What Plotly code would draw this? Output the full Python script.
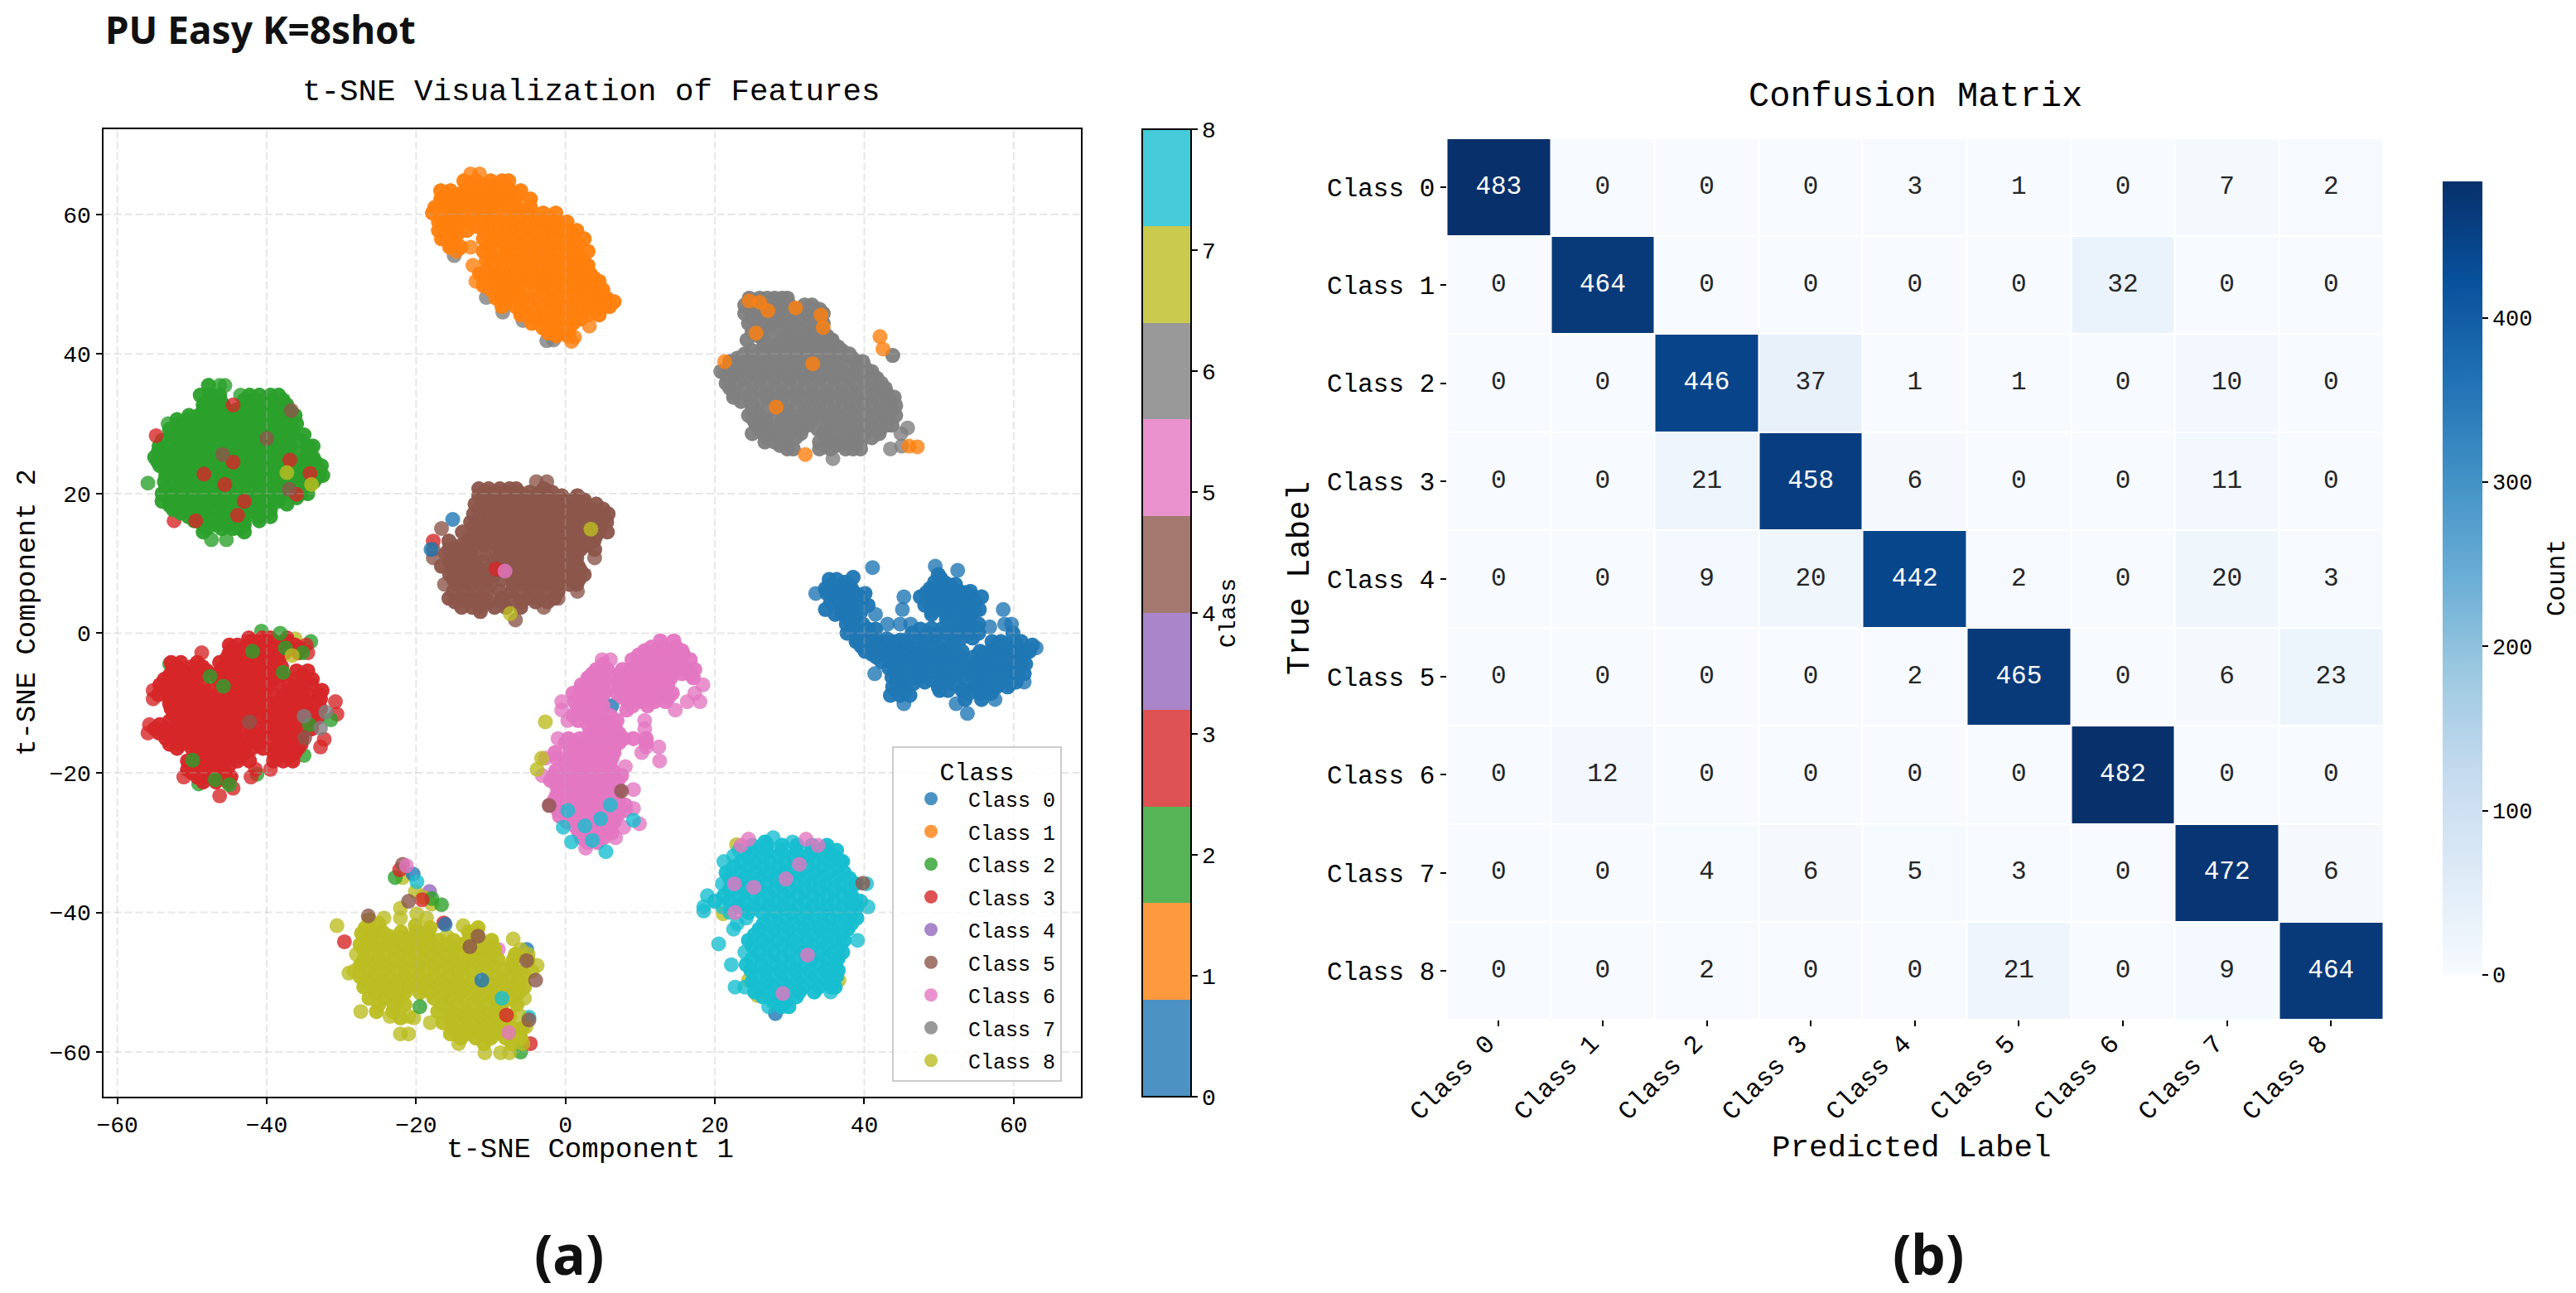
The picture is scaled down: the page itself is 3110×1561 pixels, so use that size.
import plotly.graph_objects as go

W, H = 3110, 1561
MONO = "Liberation Mono"
BOLD = "Noto Sans"

class_names = ["Class 0", "Class 1", "Class 2", "Class 3", "Class 4", "Class 5", "Class 6", "Class 7", "Class 8"]
tab10 = ["#1f77b4", "#ff7f0e", "#2ca02c", "#d62728", "#9467bd", "#8c564b", "#e377c2", "#7f7f7f", "#bcbd22", "#17becf"]
band_colors = ["#4c92c3", "#ff993e", "#56b356", "#de5253", "#a985ca", "#a3786f", "#e992ce", "#999999", "#c9ca4e", "#45cbd9"]
x_ticks = [-60, -40, -20, 0, 20, 40, 60]
y_ticks = [-60, -40, -20, 0, 20, 40, 60]
cbar_ticks = [0, 1, 2, 3, 4, 5, 6, 7, 8]
count_ticks = [0, 100, 200, 300, 400]

confusion = [
    [483, 0, 0, 0, 3, 1, 0, 7, 2],
    [0, 464, 0, 0, 0, 0, 32, 0, 0],
    [0, 0, 446, 37, 1, 1, 0, 10, 0],
    [0, 0, 21, 458, 6, 0, 0, 11, 0],
    [0, 0, 9, 20, 442, 2, 0, 20, 3],
    [0, 0, 0, 0, 2, 465, 0, 6, 23],
    [0, 12, 0, 0, 0, 0, 482, 0, 0],
    [0, 0, 4, 6, 5, 3, 0, 472, 6],
    [0, 0, 2, 0, 0, 21, 0, 9, 464],
]

# t-SNE points, as (y, [x, x, ...]) rows
rows_0 = [
    (9.4, [41.1]), (9.6, [49.5]), (9.0, [52.5]), (8.4, [49.9]), (8.0, [38.5]), (7.7, [35.3, 36.3]),
    (7.3, [37.4, 49.4, 50.7]), (7.0, [52.2]), (6.4, [34.8, 35.9, 37.0, 38.3, 48.8, 49.9]),
    (6.0, [51.2, 52.7, 54.2]), (5.7, [33.5, 40.1]), (5.2, [35.9, 37.0, 38.3, 39.4, 45.3, 47.5, 48.8, 50.1, 51.4, 52.9, 54.4, 55.7]),
    (4.0, [36.8, 40.5, 48.1, 49.4, 50.9, 52.4, 53.9]), (3.4, [34.8, 38.5, 45.1, 55.4, 58.6]),
    (2.7, [36.1, 41.5, 38.7, 49.0, 51.0, 52.5, 54.0]), (1.3, [37.6, 52.5, 53.8, 58.8, 39.8, 43.1, 44.8, 46.2, 55.3, 59.7]),
    (0.9, [56.8]), (0.0, [37.7, 39.0, 46.4, 48.6, 50.1, 51.4, 52.7, 54.0, 55.3, 59.9]),
    (-1.2, [38.9, 40.1, 41.3, 42.5, 43.8, 50.5, 57.1, 58.3, 61.0]), (-1.7, [62.5]), (-2.1, [63.0, 45.3, 46.6, 44.0, 59.5, 58.1]),
    (-2.6, [40.1, 41.4, 42.7, 53.1, 55.5, 56.8, 61.0, 62.1]), (-3.4, [41.6, 42.9, 44.2, 45.5, 46.8, 48.1, 49.6, 50.9, 54.7, 56.0, 57.3, 58.8, 60.3]),
    (-4.4, [47.4, 48.8, 50.3, 51.6, 61.6]), (-5.0, [43.3, 44.6, 45.9, 54.0, 55.5, 57.0, 58.4, 59.9]),
    (-5.8, [41.4, 47.2, 48.5, 49.9, 51.2, 61.4]), (-6.3, [43.7, 45.0, 54.4, 55.9, 57.3, 58.8]),
    (-7.0, [48.1, 51.2, 60.3, 61.4]), (-7.7, [43.8, 45.1, 49.9, 54.7, 57.7, 59.2]), (-8.2, [53.1, 56.2, 51.2, 50.1]),
    (-8.9, [43.5, 44.8, 46.1]), (-9.5, [53.5, 55.7, 57.5]), (-10.1, [45.3, 52.3]), (-11.5, [53.8]),
    (6.8, [35.5, 36.7, 37.8]), (5.7, [35.0, 36.3, 37.6, 38.8]), (4.5, [35.5, 36.8, 38.2, 39.5]), (3.0, [37.5, 39.5]), (2.1, [37.8]),
    (0.7, [38.6]), (-0.8, [39.0, 41.0, 43.0]), (-1.9, [39.6, 42.0, 43.0, 45.8]), (-3.0, [41.0, 43.5, 44.8, 46.2, 47.5, 49.0, 50.5]),
    (-4.1, [42.3, 43.6, 45.0, 46.3, 47.8, 49.5, 51.0]), (-5.4, [44.0, 46.0, 47.8, 49.2, 50.6]), (-6.6, [44.4, 49.0, 50.5]), (-8.2, [44.2, 45.5]),
    (7.9, [50.2]), (6.9, [50.0, 51.4]), (5.8, [48.3, 49.5, 50.7, 52.0, 53.5]), (4.5, [48.6, 50.0, 51.5, 53.0, 54.8]),
    (3.2, [49.0, 50.5, 52.0, 53.5, 54.8]), (2.0, [51.0, 52.5, 54.0]), (0.7, [49.0, 50.5, 52.0, 53.5, 55.0]), (-0.7, [49.0, 52.0, 53.0, 54.5]),
    (-1.6, [57.8, 59.0, 60.3]), (-2.9, [56.0, 57.5, 59.0, 60.5, 61.5]), (-4.2, [55.0, 56.5, 58.0, 59.5, 61.0]),
    (-5.6, [54.5, 56.0, 57.5, 59.0, 60.5]), (-7.2, [55.0, 56.5, 58.0, 59.5]), (-8.6, [54.0, 55.5, 57.0]),
    (-6.0, [52.5, 53.2]), (-4.5, [52.8, 53.5]), (-3.4, [52.0, 53.0]), (-2.0, [47.5, 49.0, 50.0, 51.5, 52.0]), (-1.0, [47.0, 48.2, 44.8, 45.5]),
    (0.6, [47.5, 40.5, 41.5]), (-6.5, [46.2, 47.3]), (-7.2, [46.6, 52.0]), (-8.0, [53.3]), (4.0, [38.0]), (2.8, [37.0, 38.0]), (1.7, [38.5]),
]
rows_1 = [
    (65.8, [-12.7, -11.5]), (64.8, [-13.6, -12.0, -10.0, -8.5, -7.6]),
    (63.4, [-16.7, -15.4, -13.5, -12.0, -10.5, -9.0, -7.5, -6.0]),
    (62.2, [-16.7, -15.0, -13.5, -12.0, -10.5, -9.0, -7.5, -6.6, -4.7]),
    (61.0, [-17.5, -16.0, -14.0, -12.0, -10.0, -8.0, -6.7, -4.7]),
    (60.2, [-17.8, -16.0, -14.5, -12.5, -10.5, -8.5, -5.0, -3.0, -1.3]),
    (58.9, [-17.0, -15.5, -14.0, -13.0, -11.0, -9.0, -7.0, -5.0, -3.0, -1.5, 0.2]),
    (57.7, [-17.0, -15.5, -13.2, -11.0, -9.0, -7.0, -5.0, -3.0, -1.0, 0.5, 1.5]),
    (56.5, [-16.6, -15.0, -11.0, -9.0, -7.0, -5.0, -3.0, -1.0, 1.0, 2.5]),
    (55.3, [-15.5, -14.0, -12.7, -10.5, -8.0, -6.0, -4.0, -2.0, 0.0, 1.5]), (54.7, [3.0]),
    (54.1, [-10.0, -8.0, -6.0, -4.0, -2.0, 0.0, 1.5]),
    (52.7, [-12.4, -9.5, -7.5, -5.5, -3.5, -1.5, 0.5, 2.0, 3.0]),
    (51.5, [-11.5, -9.5, -7.5, -5.5, -3.0, -1.0, 1.0, 2.5, 3.3]),
    (50.4, [-12.0, -10.0, -8.0, -6.0, -4.5, -2.5, -0.5, 1.5, 3.0, 4.5]),
    (49.2, [-10.0, -8.5, -7.0, -4.0, -2.0, 0.0, 2.0, 3.5, 5.0]),
    (48.0, [-9.3, -8.0, -7.0, -5.5, -4.0, -2.0, 0.0, 2.0, 4.0, 5.5]), (47.5, [6.5]),
    (46.8, [-8.5, -6.7, -3.0, -1.0, 1.0, 3.0, 5.0, 5.9]),
    (45.6, [-6.0, -5.0, -3.0, -1.0, 1.0, 3.0, 4.5]),
    (44.4, [-4.5, -2.5, -0.5, 1.0]), (44.0, [3.2]), (43.0, [-2.3, -0.5]), (42.4, [1.2]), (41.8, [0.8]),
    (64.2, [-12.8, -11.0, -9.2]), (62.8, [-16.0, -14.5, -12.8, -11.2, -9.7, -8.2, -6.8]), (61.6, [-16.5, -14.8, -12.8, -11.0, -9.0, -7.3]),
    (60.6, [-16.8, -15.0, -13.2, -11.3, -9.3, -7.4, -5.8]), (59.5, [-16.5, -14.8, -12.2, -10.0, -8.0, -6.0, -4.0, -2.2]),
    (58.3, [-16.2, -14.6, -12.0, -10.0, -8.0, -6.0, -4.0, -2.0, -0.5]), (57.1, [-16.0, -14.5, -10.0, -8.0, -6.0, -4.0, -2.0, 0.0, 1.0]),
    (55.9, [-15.5, -10.0, -8.0, -6.0, -4.0, -2.0, 0.0, 1.7]), (54.7, [-14.6, -11.0, -9.0, -7.0, -5.0, -3.0, -1.0, 1.0]),
    (53.4, [-10.6, -8.5, -6.5, -4.5, -2.5, -0.5, 1.3, 2.3]), (52.1, [-10.5, -8.5, -6.5, -4.5, -2.2, -0.2, 1.7, 2.8]),
    (50.9, [-11.0, -9.0, -7.0, -5.0, -3.5, -1.5, 0.5, 2.2, 3.8]), (49.8, [-11.0, -9.0, -7.5, -5.5, -3.0, -1.0, 1.0, 2.7, 4.0]),
    (48.6, [-9.2, -7.7, -6.3, -3.0, -1.0, 1.0, 3.0, 4.8]), (47.4, [-8.0, -5.0, -2.0, 0.0, 2.0, 4.0, 5.5]),
    (46.2, [-6.0, -4.0, -2.0, 0.0, 2.0, 4.0]), (45.0, [-4.0, -2.0, 0.0, 2.0]), (43.7, [-3.0, -1.0, 0.5]), (42.6, [-1.2, 0.3]),
]
rows_2 = [
    (35.5, [-47.8, -46.3, -45.6]), (34.1, [-48.9, -47.6, -46.3, -43.5, -42.3, -41.0, -39.5, -38.4]),
    (32.7, [-48.5, -47.2, -45.8, -42.8, -41.3, -39.9, -38.4, -37.3]),
    (31.2, [-50.4, -49.1, -47.6, -46.1, -44.7, -43.2, -41.7, -40.2, -38.7, -37.3, -36.2]),
    (30.0, [-53.2, -51.7, -50.2, -48.7, -47.2, -45.8, -44.3, -42.8, -41.3, -39.9, -38.4, -36.9, -36.0]),
    (28.4, [-52.8, -51.3, -49.8, -48.4, -46.9, -45.4, -43.9, -42.4, -41.0, -39.5, -38.0, -36.5, -35.0]),
    (26.8, [-54.4, -53.0, -51.5, -50.0, -48.5, -47.1, -45.6, -44.1, -42.6, -41.1, -39.7, -38.2, -36.9, -34.5, -33.8]),
    (25.2, [-55.0, -53.5, -52.0, -50.5, -49.0, -47.5, -46.0, -44.5, -43.0, -41.5, -40.0, -38.5, -37.0, -34.6, -33.8]),
    (24.0, [-54.3, -52.5, -51.0, -49.5, -48.0, -46.5, -45.0, -43.5, -42.0, -40.5, -39.0, -37.5, -35.0, -33.5, -32.7]),
    (22.6, [-53.5, -52.0, -50.0, -48.5, -47.0, -45.5, -44.0, -42.5, -41.0, -39.5, -38.0, -36.0, -34.5, -33.0, -32.5]),
    (21.7, [-53.7, -51.5, -50.0, -48.0, -46.0, -44.5, -43.0, -41.5, -40.0, -38.5, -37.0, -35.0, -33.7]),
    (20.0, [-54.0, -52.5, -50.5, -49.0, -47.0, -45.0, -43.0, -41.0, -39.0, -37.5, -35.4, -34.5]),
    (18.9, [-54.0, -52.5, -51.0, -49.0, -47.5, -46.0, -44.0, -42.5, -41.0, -39.5, -38.5]), (18.5, [-37.3]),
    (17.7, [-52.5, -51.0, -49.0, -47.0, -45.5, -44.0, -42.0, -40.5, -39.5]),
    (16.7, [-50.5, -49.0, -46.0, -44.5, -43.0, -41.0, -39.5]),
    (15.5, [-48.5, -46.7, -45.3, -44.0, -43.0]), (14.5, [-48.5, -43.0]), (13.4, [-47.4, -45.4]),
    (33.4, [-47.8, -46.2, -43.0, -41.7, -40.3, -39.0, -37.8]), (32.0, [-48.5, -47.0, -45.5, -44.0, -42.5, -41.0, -39.5, -38.0, -37.0]),
    (30.6, [-52.0, -50.5, -49.0, -47.5, -46.0, -44.5, -43.0, -41.5, -40.0, -38.5, -37.0]),
    (29.2, [-53.0, -51.5, -50.0, -48.5, -47.0, -45.5, -44.0, -42.5, -41.0, -39.5, -38.0, -36.5]),
    (27.6, [-54.0, -52.0, -50.5, -49.0, -47.5, -46.0, -44.5, -43.0, -41.5, -40.0, -38.5, -37.0, -35.5]),
    (26.0, [-54.5, -52.8, -51.0, -49.5, -48.0, -46.5, -45.0, -43.5, -42.0, -40.5, -39.0, -37.5, -36.0, -34.2]),
    (24.6, [-54.6, -53.0, -51.5, -50.0, -48.5, -47.0, -45.5, -44.0, -42.5, -41.0, -39.5, -38.0, -36.5, -35.0, -33.5]),
    (23.3, [-53.5, -52.0, -50.5, -49.0, -47.5, -46.0, -44.5, -43.0, -41.5, -40.0, -38.5, -37.0, -35.5, -34.0, -33.0]),
    (22.1, [-52.8, -51.0, -49.0, -47.5, -46.0, -44.5, -43.0, -41.5, -40.0, -38.5, -36.5, -35.0, -33.5]),
    (20.8, [-53.5, -51.8, -50.0, -48.2, -46.5, -45.0, -43.5, -42.0, -40.5, -39.0, -37.5, -35.8, -34.5]),
    (19.4, [-53.0, -51.5, -50.0, -48.0, -46.5, -44.5, -43.0, -41.5, -40.0, -38.5, -36.0]),
    (18.3, [-53.0, -51.0, -50.0, -48.0, -46.0, -44.5, -43.0, -41.5, -40.0]), (17.2, [-51.5, -50.0, -48.0, -46.0, -45.0, -43.0, -41.5, -40.0]),
    (16.1, [-49.7, -47.5, -46.0, -44.5, -43.0, -41.0]), (15.0, [-48.0, -46.0, -44.5, -43.5]),
]
rows_3 = [
    (-0.7, [-42.4, -40.6, -39.5, -37.3]), (-1.7, [-45.0, -43.9, -42.4, -41.0, -39.5, -38.0, -36.2, -34.7]),
    (-2.8, [-48.7, -45.0, -43.5, -42.0, -40.6, -39.1, -37.6, -35.8, -34.5]),
    (-4.2, [-52.8, -51.5, -49.3, -46.3, -44.8, -43.4, -41.9, -40.4, -38.9]),
    (-5.4, [-52.6, -51.1, -49.5, -48.0, -46.1, -44.7, -43.2, -41.7, -40.2, -38.7, -36.0, -34.5]),
    (-6.6, [-53.7, -52.4, -50.9, -49.5, -46.5, -45.0, -43.5, -42.0, -40.6, -39.1, -36.2, -34.9, -33.9]),
    (-8.2, [-55.2, -53.5, -52.0, -50.6, -49.1, -47.6, -44.5, -43.2, -41.7, -40.2, -36.9, -35.4, -32.6]),
    (-9.4, [-55.2, -53.0, -51.5, -50.0, -48.5, -47.1, -45.6, -44.1, -42.6, -41.1, -38.0, -36.5, -35.0, -32.8]), (-9.8, [-30.8]),
    (-10.8, [-52.8, -51.3, -49.8, -48.4, -46.9, -45.4, -43.9, -42.4, -41.1, -39.5, -38.0, -36.5, -34.3, -32.8]),
    (-11.6, [-30.6]), (-12.1, [-52.0, -50.6, -49.1, -47.6, -46.1, -44.7, -43.2, -40.6, -39.1, -37.6, -36.2, -33.2]),
    (-13.1, [-55.7, -54.3, -51.7, -50.2, -48.7, -47.2, -45.8, -44.3, -39.1, -37.3]),
    (-14.3, [-55.9, -54.4, -53.0, -51.5, -50.0, -48.5, -47.1, -45.6, -44.1, -42.1, -40.6, -39.1, -37.6, -36.2]), (-15.2, [-32.3]),
    (-15.9, [-53.0, -51.5, -50.0, -48.5, -47.1, -45.6, -44.1, -42.8, -41.0, -38.4, -36.9, -35.4]), (-16.3, [-32.8]),
    (-17.1, [-48.7, -47.2, -45.8, -44.3, -43.0, -39.1, -37.6, -36.2]),
    (-18.3, [-50.6, -49.1, -47.6, -45.6, -43.9, -42.3, -39.1, -37.8, -36.5]),
    (-19.5, [-50.6, -49.3, -48.0, -46.5, -41.5, -39.5]), (-20.6, [-51.1, -49.3, -48.0, -46.3, -44.8, -42.1]),
    (-22.2, [-44.5]), (-23.3, [-46.3]),
    (-1.2, [-42.0, -40.5, -39.0, -37.5]), (-2.2, [-44.5, -43.0, -41.5, -40.0, -38.5, -36.8, -35.5]),
    (-3.5, [-45.3, -44.0, -42.6, -41.2, -39.8, -38.3]), (-4.8, [-52.0, -50.0, -48.6, -45.6, -44.0, -42.5, -41.0, -39.5, -38.0]),
    (-6.0, [-53.0, -51.7, -50.2, -48.8, -47.0, -45.4, -44.0, -42.5, -41.0, -39.5, -37.9, -35.2]),
    (-7.4, [-54.3, -53.0, -51.3, -50.0, -48.5, -46.0, -44.5, -43.0, -41.5, -40.0, -38.5, -37.0, -35.5, -34.0]),
    (-8.8, [-54.5, -52.8, -51.3, -49.7, -48.3, -46.5, -45.0, -43.5, -42.0, -40.5, -39.0, -37.5, -36.0, -34.5, -33.0]),
    (-10.1, [-53.0, -51.5, -50.0, -48.5, -47.0, -45.5, -44.0, -42.5, -41.0, -39.5, -38.0, -36.5, -35.0, -33.5]),
    (-11.5, [-52.5, -51.0, -49.5, -48.0, -46.5, -45.0, -43.5, -42.0, -40.0, -38.5, -37.0, -35.5, -34.0]),
    (-12.6, [-53.0, -51.0, -49.5, -48.0, -46.5, -45.0, -43.5, -42.0, -40.0, -38.5, -37.0, -35.5, -33.8]),
    (-13.7, [-55.0, -53.5, -52.0, -50.5, -49.0, -47.5, -46.0, -44.5, -43.0, -41.5, -40.0, -38.5, -37.0, -35.5, -34.0]),
    (-15.1, [-53.5, -52.0, -50.5, -49.0, -47.5, -46.0, -44.5, -43.0, -41.5, -39.8, -38.3, -36.8, -35.3]),
    (-16.5, [-52.0, -50.0, -48.0, -46.5, -45.0, -43.5, -42.0, -40.5, -38.8, -37.2, -35.8]),
    (-17.7, [-49.5, -48.0, -46.5, -45.0, -43.5, -38.5, -37.0]), (-18.9, [-50.0, -48.5, -47.0, -45.0]),
    (-20.0, [-50.0, -48.7, -47.0, -45.5]), (-21.3, [-48.5, -46.8, -45.2]),
]
rows_4 = [(-37.0, [-18.2])]
rows_5 = [
    (21.7, [-3.9, -2.5]), (20.7, [-11.6, -10.3, -8.8, -7.5, -6.6, -2.9]),
    (19.7, [-11.6, -9.9, -8.4, -7.0, -5.5, -4.0, -2.5, -0.5, 1.6]),
    (18.5, [-12.1, -10.6, -9.2, -7.7, -6.2, -4.7, -3.3, -1.8, -0.3, 1.2, 2.7, 4.1]),
    (17.1, [-12.3, -10.8, -9.3, -7.8, -6.3, -4.8, -3.3, -1.8, -0.3, 1.2, 2.7, 4.2, 5.7]),
    (15.9, [-12.7, -11.0, -9.5, -8.0, -6.5, -5.0, -3.5, -2.0, -0.5, 1.0, 2.5, 4.0, 5.5]), (15.0, [-16.6]),
    (14.5, [-13.8, -12.0, -10.5, -9.0, -7.5, -6.0, -4.5, -3.0, -1.5, 0.0, 1.5, 3.0, 4.5, 5.6]),
    (13.2, [-15.6, -13.0, -11.5, -10.0, -8.5, -7.0, -5.5, -4.0, -2.5, -1.0, 0.5, 2.0, 3.8]),
    (12.0, [-17.7, -15.6, -14.7, -13.0, -8.5, -7.0, -5.5, -4.0, -2.5, -1.0, 0.5, 2.0, 3.9]),
    (10.8, [-17.7, -15.4, -14.0, -12.7, -9.0, -7.5, -6.0, -4.5, -3.0, -1.5, 0.0, 1.5, 3.9]),
    (9.6, [-16.6, -15.0, -13.5, -12.0, -9.5, -8.0, -6.0, -4.5, -3.0, -1.5, 0.0, 1.5, 1.7]),
    (8.4, [-15.5, -14.0, -12.5, -11.0, -9.5, -7.5, -6.0, -4.5, -3.0, -1.5, 0.0, 1.5, 2.5]),
    (7.0, [-16.2, -14.5, -13.0, -11.5, -10.0, -7.0, -5.5, -4.0, -2.5, -1.0, 0.5, 1.5]), (6.0, [1.6]),
    (5.0, [-15.6, -14.0, -12.5, -11.0, -8.5, -7.0, -5.0, -3.5, -1.5, -1.0]),
    (3.7, [-13.9, -12.5, -11.4, -9.5, -8.0, -6.0, -2.9]), (3.1, [-11.4]), (1.9, [-6.7]),
    (20.2, [-10.8, -9.3, -7.8, -6.3, -4.8, -3.3, -1.8]), (19.1, [-11.0, -9.5, -8.0, -6.5, -5.0, -3.5, -2.0, -0.5, 1.0, 2.5]),
    (17.8, [-11.5, -10.0, -8.5, -7.0, -5.5, -4.0, -2.5, -1.0, 0.5, 2.0, 3.5, 5.0]),
    (16.5, [-11.5, -10.0, -8.5, -7.0, -5.5, -4.0, -2.5, -1.0, 0.5, 2.0, 3.5, 5.0]),
    (15.2, [-12.3, -10.8, -9.3, -7.8, -6.3, -4.8, -3.3, -1.8, -0.3, 1.2, 2.7, 4.2]),
    (13.8, [-12.5, -11.0, -9.5, -8.0, -6.5, -5.0, -3.5, -2.0, -0.5, 1.0, 2.5, 4.0]),
    (12.6, [-14.0, -12.3, -10.8, -9.2, -7.7, -6.2, -4.7, -3.2, -1.7, -0.2, 1.3, 2.8]),
    (11.4, [-16.0, -14.3, -12.7, -11.0, -9.2, -7.7, -6.2, -4.7, -3.2, -1.7, -0.2, 1.3]),
    (10.2, [-15.5, -14.0, -12.5, -11.0, -9.5, -8.0, -6.5, -5.0, -3.5, -2.0, -0.5, 1.0]),
    (9.0, [-15.0, -13.5, -12.0, -10.5, -9.0, -7.0, -5.5, -4.0, -2.5, -1.0, 0.5, 2.0]),
    (7.7, [-15.0, -13.5, -12.0, -10.5, -8.5, -7.0, -5.5, -4.0, -2.5, -1.0, 0.5, 1.8]),
    (6.0, [-15.0, -13.5, -12.0, -10.5, -8.8, -7.2, -5.5, -4.0, -2.5, -1.0]),
    (4.5, [-14.8, -13.2, -11.7, -10.2, -8.5, -6.0, -4.0, -2.4]),
]
rows_6 = [
    (-1.1, [12.7, 14.5]), (-2.5, [10.6, 12.3, 13.7, 15.6]), (-3.8, [4.9, 6.0, 8.9, 10.4, 11.9, 13.4, 14.9, 16.7]),
    (-5.2, [4.1, 5.6, 7.6, 8.9, 10.4, 11.9, 13.4, 14.9, 16.3, 17.3]),
    (-6.4, [3.0, 4.3, 6.7, 8.2, 9.7, 11.2, 12.6, 14.1, 17.1]),
    (-7.4, [2.1, 3.6, 6.4, 7.8, 9.3, 10.8, 12.3, 13.7, 18.4]),
    (-8.6, [1.0, 2.5, 4.0, 5.2, 6.9, 8.4, 9.9, 11.3, 12.8, 14.3, 17.3]),
    (-9.8, [-0.5, 1.2, 2.7, 4.1, 8.4, 10.1, 11.9, 13.4, 16.3, 18.0]),
    (-11.0, [-0.5, 1.6, 3.0, 4.5, 8.2, 14.7]), (-12.5, [0.3, 1.7, 3.8, 5.2, 6.9, 10.6]),
    (-13.7, [3.8, 5.2, 6.7, 10.6]), (-15.1, [-1.0, 0.4, 1.9, 3.4, 4.9, 6.4, 7.8, 9.1, 10.8]),
    (-16.3, [0.6, 2.1, 3.6, 5.1, 6.5, 10.8, 12.5]), (-17.1, [-1.4, 0.6, 2.1, 3.6, 5.1, 6.5, 10.2]),
    (-17.9, [-2.7, -1.2, 0.6, 2.1, 3.6, 5.1, 6.2]), (-18.3, [12.6]), (-19.1, [0.8, 2.3, 3.8, 5.2, 8.0]),
    (-20.4, [-3.1, -1.6, 0.1, 1.6, 3.0, 4.5, 6.0, 7.5]), (-21.8, [-1.2, 0.3, 1.7, 3.2, 4.7, 6.2]), (-22.4, [9.1]),
    (-23.2, [-1.2, 0.3, 1.7, 3.2, 4.7, 6.2]), (-24.6, [-2.1, -1.0, 0.4, 1.9, 3.4, 4.9, 6.4, 8.0]), (-25.1, [9.1]),
    (-26.2, [-0.8, 1.0, 2.5, 4.0, 5.4, 6.9]), (-27.8, [1.4, 2.8, 4.3, 6.0, 7.8]), (-29.3, [2.1, 3.6, 5.1, 6.7]), (-30.8, [2.7]),
    (-2.0, [11.5, 13.0, 14.8]), (-3.1, [9.8, 11.2, 12.8, 14.3, 15.8]), (-4.5, [5.0, 9.5, 11.0, 12.6, 14.0, 15.6]),
    (-5.8, [3.6, 5.0, 7.3, 9.0, 10.7, 12.4, 14.0, 15.6, 16.8]), (-6.9, [3.0, 4.8, 7.1, 8.8, 10.3, 12.0, 13.4]),
    (-8.0, [2.0, 3.4, 5.0, 7.4, 9.0, 10.5, 12.0, 13.5]), (-9.2, [1.9, 3.4, 4.8, 7.6, 9.2, 10.7, 12.2, 13.8]), (-10.4, [2.0, 3.4, 5.0, 9.0, 11.0]),
    (-11.8, [1.0, 2.8, 4.4, 6.0]), (-13.1, [3.0, 4.5, 6.0]), (-14.4, [3.2, 4.6, 6.0, 7.2]), (-15.7, [0.0, 1.3, 2.8, 4.3, 5.8, 7.2, 10.8]),
    (-16.7, [1.3, 2.8, 4.4, 5.8]), (-18.5, [0.0, 1.5, 3.0, 4.5, 6.0]), (-19.7, [-1.3, 0.2, 1.8, 3.3, 4.8, 6.3]),
    (-21.1, [-2.0, -0.5, 1.0, 2.5, 4.0, 5.5, 7.0]), (-22.5, [-0.5, 1.0, 2.5, 4.0, 5.5, 7.2]), (-23.9, [-1.5, 0.0, 1.2, 2.5, 4.0, 5.5, 7.0]),
    (-25.4, [-1.0, 0.5, 2.0, 3.5, 5.0, 6.8, 8.0]), (-27.0, [0.2, 1.8, 3.5, 5.0, 6.5]), (-28.6, [1.8, 3.2, 4.7, 6.2]), (-30.0, [3.0, 4.3]),
]
rows_7 = [
    (48.0, [24.6, 26.0, 27.0, 28.0, 29.0, 29.7]), (47.0, [24.0, 25.5, 27.0, 28.5, 30.0, 32.0, 33.0]),
    (45.8, [24.0, 25.5, 27.0, 28.5, 30.0, 32.0, 32.6, 33.5, 34.5]), (44.4, [24.5, 26.0, 27.5, 29.0, 30.5, 32.5, 34.5]),
    (43.2, [25.0, 26.5, 29.5, 31.0, 33.0, 34.5]), (42.0, [24.3, 26.5, 29.0, 31.0, 32.5, 34.0, 35.5, 35.7]),
    (41.0, [26.5, 28.0, 30.0, 31.5, 33.5, 35.0, 36.5]), (40.0, [24.0, 26.0, 28.0, 30.0, 32.0, 34.0, 36.0, 36.7, 38.0]),
    (39.8, [43.8]), (38.9, [22.0, 23.0, 24.5, 26.5, 28.5, 30.5, 32.5, 34.5, 36.5, 39.0, 39.8]),
    (37.5, [20.8, 23.0, 25.0, 27.0, 29.0, 31.0, 33.0, 35.0, 37.0, 39.0, 41.0]),
    (36.5, [22.0, 24.0, 26.0, 28.0, 30.0, 32.0, 34.0, 36.0, 38.0, 40.0, 41.5, 41.7]),
    (35.1, [22.0, 24.0, 26.0, 28.0, 30.0, 32.0, 34.0, 36.0, 38.0, 40.0, 42.0, 42.8]),
    (33.8, [22.5, 24.5, 27.0, 29.0, 31.0, 33.0, 35.0, 37.0, 39.0, 41.0, 43.0, 44.0]),
    (32.6, [25.0, 28.5, 31.0, 33.0, 35.0, 37.0, 39.0, 41.0, 43.0, 44.2]),
    (31.2, [24.5, 26.0, 28.0, 30.0, 32.0, 33.5, 34.5, 36.5, 38.5, 40.5, 42.5, 44.2]),
    (29.8, [25.5, 27.0, 29.0, 31.0, 32.5, 35.0, 37.0, 39.0, 41.0, 43.0, 43.7]), (29.4, [45.8]),
    (28.6, [25.0, 26.5, 28.0, 30.0, 31.5, 34.5, 36.0, 38.0, 40.0, 42.0, 44.9]),
    (27.4, [26.7, 28.0, 29.5, 34.0, 35.5, 37.0, 39.0, 39.5]), (26.8, [45.0]),
    (26.4, [29.7, 30.5, 34.0, 35.5, 37.5, 38.5, 39.5, 43.5]), (25.0, [35.8]),
    (47.5, [25.3, 26.7, 28.0, 29.3]), (46.4, [24.8, 26.3, 27.8, 29.3, 31.0, 32.8, 34.0]), (45.1, [25.0, 26.5, 28.0, 29.5, 31.0, 33.3]),
    (43.8, [25.5, 27.0, 28.5, 30.0, 32.0, 33.8]), (42.6, [25.8, 27.5, 30.0, 32.0, 33.5, 35.0]), (41.5, [27.0, 28.8, 30.5, 32.5, 34.2, 35.8]),
    (40.5, [25.0, 27.0, 29.0, 31.0, 33.0, 35.0, 37.0]), (39.4, [23.0, 25.0, 27.0, 29.0, 31.0, 33.0, 35.0, 37.0, 38.4]),
    (38.2, [22.0, 24.0, 26.0, 28.0, 30.0, 32.0, 34.0, 36.0, 38.0, 40.0]), (37.0, [21.5, 23.5, 25.5, 27.5, 29.5, 31.5, 33.5, 35.5, 37.5, 39.5, 40.8]),
    (35.8, [21.5, 23.0, 25.0, 27.0, 29.0, 31.0, 33.0, 35.0, 37.0, 39.0, 41.0, 42.3]), (34.4, [22.5, 25.0, 27.0, 29.0, 31.0, 33.0, 35.0, 37.0, 39.0, 41.0, 43.0]),
    (33.2, [23.5, 26.0, 28.0, 30.0, 32.0, 34.0, 36.0, 38.0, 40.0, 42.0, 43.5]), (31.9, [25.0, 27.0, 29.5, 32.0, 34.0, 36.0, 38.0, 40.0, 42.0, 43.7]),
    (30.5, [25.2, 26.8, 29.0, 31.0, 33.0, 35.0, 37.0, 39.0, 41.0, 43.0]), (29.2, [26.0, 28.0, 30.0, 31.6, 33.8, 36.0, 38.0, 40.0, 42.0]),
    (28.0, [27.0, 29.0, 30.8, 35.0, 37.0, 39.0, 41.0]), (26.9, [28.7, 34.8, 36.3, 38.0]),
]
rows_8 = [
    (-35.0, [-21.8]), (-37.0, [-20.1]), (-37.8, [-19.1]), (-38.8, [-17.9]), (-39.4, [-22.1]), (-40.2, [-19.9]),
    (-40.8, [-18.6, -24.3, -22.1]), (-41.0, [-26.3]), (-41.6, [-25.0]), (-41.9, [-30.6, -13.7, -20.1]),
    (-42.2, [-26.8, -11.7, -18.1]), (-43.0, [-27.3, -25.5, -12.7]), (-43.4, [-23.6, -21.8, -20.1, -18.4, -15.9]), (-43.8, [-7.0]), (-44.0, [-9.9]),
    (-44.6, [-27.5, -25.8, -23.8, -21.8, -19.9, -17.9, -15.9, -13.9]), (-45.0, [-11.7, -9.7]),
    (-46.0, [-28.0, -26.0, -24.1, -22.1, -20.1, -18.1, -16.1, -14.2, -12.2, -10.2, -6.7, -5.0]),
    (-47.6, [-27.5, -25.5, -23.6, -21.6, -19.6, -17.6, -15.6, -13.7, -11.7, -9.7, -7.2, -3.8]), (-48.7, [-29.0]), (-48.9, [-5.5]),
    (-49.2, [-27.5, -25.5, -23.6, -21.6, -19.6, -17.6, -15.6, -13.7, -9.2, -7.2]),
    (-50.7, [-27.0, -25.0, -23.1, -21.1, -19.1, -17.1, -15.1, -13.2, -11.2, -9.2, -7.2, -5.5]),
    (-52.3, [-26.3, -24.3, -22.3, -17.6, -15.6, -13.7, -11.7, -9.7, -7.2, -5.5]),
    (-54.2, [-27.4, -25.3, -23.1, -17.1, -15.1, -13.2, -11.2, -9.2]), (-54.7, [-6.2]), (-55.1, [-20.3, -22.1]),
    (-55.8, [-14.3, -12.4, -10.4, -18.1, -16.4, -8.5]), (-56.4, [-5.3]),
    (-57.4, [-22.1, -21.0, -15.4, -13.4, -11.4, -9.4, -6.7]), (-58.8, [-14.3, -10.9, -7.2, -5.7]), (-60.1, [-10.8, -8.7, -7.5]),
    (-42.8, [-26.0, -24.5, -22.0, -20.0, -18.5, -13.0, -12.0]), (-44.0, [-26.5, -24.5, -23.0, -21.0, -19.0, -17.0, -15.0, -13.0, -11.5]),
    (-45.3, [-27.0, -25.0, -23.0, -21.0, -19.0, -17.0, -15.0, -13.0, -11.0, -9.5, -6.0]),
    (-46.8, [-27.0, -25.0, -23.0, -21.0, -19.0, -17.0, -15.0, -13.0, -11.0, -9.0, -7.0, -5.0]),
    (-48.4, [-28.3, -26.5, -24.5, -22.5, -20.5, -18.5, -16.5, -14.5, -12.5, -10.5, -8.3, -6.5, -4.5]),
    (-49.9, [-26.5, -24.5, -22.5, -20.5, -18.5, -16.5, -14.5, -12.5, -10.5, -8.5, -6.3]),
    (-51.5, [-25.5, -23.5, -21.5, -19.5, -18.0, -16.0, -14.0, -12.0, -10.0, -8.0, -6.3]),
    (-53.2, [-25.0, -23.0, -21.5, -16.5, -14.5, -12.5, -10.5, -8.5, -6.5]), (-54.9, [-23.5, -21.0, -15.5, -13.5, -11.5, -9.5, -7.5]),
    (-56.6, [-15.0, -13.0, -11.0, -9.0, -7.0, -5.8]), (-58.0, [-14.0, -12.0, -10.0, -8.0, -6.0]),
]
rows_9 = [
    (-29.3, [27.8]), (-29.9, [26.7, 30.4]), (-30.8, [34.6]), (-31.1, [23.2, 25.0, 26.9, 28.9, 30.9, 32.9, 36.3]),
    (-32.7, [21.2, 23.5, 25.4, 27.4, 29.4, 31.4, 33.4, 35.3, 36.8, 37.1]),
    (-34.3, [21.5, 23.5, 25.4, 27.4, 29.4, 31.4, 33.4, 35.3, 37.3]),
    (-35.9, [21.0, 23.0, 25.0, 26.9, 28.9, 30.9, 32.9, 34.9, 36.8, 38.8, 40.3]),
    (-37.6, [19.0, 21.2, 23.2, 25.2, 27.2, 29.2, 31.1, 33.1, 35.1, 37.1, 38.3]),
    (-39.2, [18.5, 21.0, 23.2, 25.2, 27.2, 29.2, 31.1, 33.1, 35.1, 37.1, 39.0, 40.5]), (-39.8, [18.5]),
    (-40.8, [24.2, 27.4, 29.4, 31.4, 33.4, 35.3, 37.3, 39.0]), (-42.4, [22.5, 25.9, 27.9, 29.9, 31.9, 33.9, 35.8, 37.8]),
    (-44.0, [24.5, 26.4, 28.4, 30.4, 32.4, 34.4, 36.3, 37.3, 39.1]), (-44.5, [20.5]),
    (-45.7, [24.0, 25.9, 27.9, 29.9, 31.9, 33.9, 35.8, 37.1]),
    (-47.5, [22.2, 24.2, 26.2, 28.2, 30.1, 32.1, 34.1, 36.1]), (-49.1, [25.4, 27.4, 29.4, 31.4, 33.4, 35.3, 36.3]),
    (-50.7, [22.7, 24.0, 25.9, 27.9, 29.9, 31.9, 33.9, 35.6, 36.1]), (-52.1, [26.4, 28.4, 30.9]), (-53.5, [27.2, 28.9, 29.9]),
    (-30.4, [25.0, 27.0, 29.0, 31.0, 33.0, 35.0]), (-31.9, [22.5, 24.5, 26.5, 28.5, 30.5, 32.5, 34.5, 36.0]),
    (-33.5, [22.5, 24.5, 26.5, 28.5, 30.5, 32.5, 34.5, 36.5]), (-35.1, [22.0, 24.0, 26.0, 28.0, 30.0, 32.0, 34.0, 36.0, 38.0]),
    (-36.7, [22.0, 24.0, 26.0, 28.0, 30.0, 32.0, 34.0, 36.0, 38.0]), (-38.4, [20.0, 22.0, 24.0, 26.0, 28.0, 30.0, 32.0, 34.0, 36.0, 38.0, 39.5]),
    (-40.0, [22.0, 24.5, 26.3, 28.3, 30.3, 32.3, 34.3, 36.3, 38.3]), (-41.6, [23.0, 26.5, 28.5, 30.5, 32.5, 34.5, 36.5, 38.3]),
    (-43.2, [25.3, 27.2, 29.2, 31.2, 33.2, 35.2, 37.0]), (-44.8, [25.0, 27.0, 29.0, 31.0, 33.0, 35.0, 36.8]),
    (-46.6, [25.0, 27.0, 29.0, 31.0, 33.0, 35.0, 36.5]), (-48.3, [24.8, 26.8, 28.8, 30.8, 32.8, 34.8, 36.5]),
    (-49.9, [25.0, 27.0, 29.0, 31.0, 33.0, 35.0]), (-51.4, [25.3, 27.3, 29.3, 31.3, 33.3, 35.5]), (-52.8, [27.8, 29.5]),
]

# Off-cluster points: (colour index, x, y), drawn under or over the clusters
strays_under = [
    (7, -14.9, 54.1), (7, -10.6, 48.1), (7, -8.4, 46.0), (7, -5.7, 44.8), (7, -3.1, 50.7), (7, -2.5, 41.9), (7, -1.6, 42.0), (7, 0.4, 42.8),
    (9, -33.2, 22.3), (3, -17.7, 13.2), (8, -4.2, 5.1), (0, 6.2, -10.4), (3, -16.3, -41.5), (0, -5.2, -45.3), (6, -9.0, -45.3),
    (3, -4.7, -58.8), (2, -6.0, -60.0), (9, -4.9, -55.0), (0, 28.1, -54.5), (8, 36.6, -49.7), (8, 21.1, -40.2), (8, 24.5, -49.7), (8, 25.7, -51.9),
    (8, 22.9, -30.3), (8, 24.2, -36.2), (7, 43.8, 39.8), (3, -52.4, 16.1), (2, -40.7, 0.3), (2, -34.1, -1.2), (2, -53.0, -4.4), (2, -35.0, -17.5), (2, -49.1, -21.6), (2, -41.3, -20.2),
    (8, -36.2, -0.8),
]
strays_over = [
    (1, 24.6, 47.6), (1, 26.0, 47.4), (1, 27.1, 46.2), (1, 30.8, 46.6), (1, 34.2, 45.6), (1, 34.5, 43.8), (1, 25.5, 43.0), (1, 21.3, 38.9),
    (1, 33.1, 38.6), (1, 28.2, 32.4), (1, 32.1, 25.6), (1, 42.1, 42.5), (1, 42.5, 40.7), (1, 46.0, 26.8), (1, 47.1, 26.7),
    (3, -54.8, 28.3), (5, -36.7, 31.9), (3, -44.5, 32.7), (5, -40.0, 27.9), (5, -45.9, 25.6), (3, -44.5, 24.5), (3, -48.4, 22.8), (3, -45.6, 21.3),
    (3, -43.0, 18.9), (3, -49.5, 16.1), (3, -43.9, 16.9), (3, -36.9, 24.8), (8, -37.3, 23.0), (3, -34.2, 22.9), (8, -34.0, 21.3), (3, -36.0, 19.9), (5, -37.0, 20.6), (2, -55.9, 21.5),
    (0, -15.1, 16.3), (0, -18.0, 12.0), (8, 3.4, 14.9), (6, -8.1, 8.9), (3, -9.3, 9.2), (8, -7.4, 2.8),
    (2, -38.2, 0.0), (2, -37.5, -2.1), (2, -41.9, -2.6), (2, -35.2, -2.8), (2, -37.8, -5.6), (2, -47.6, -6.2), (2, -45.8, -7.6), (2, -34.3, -13.1),
    (2, -31.4, -12.4), (2, -49.9, -18.2), (2, -46.9, -21.0), (2, -45.0, -21.7), (8, -36.6, -3.2), (5, -42.3, -12.7), (7, -32.8, -13.6), (5, -34.9, -15.0), (7, -35.0, -11.9), (7, -32.1, -11.3),
    (8, -2.7, -12.7), (8, -3.2, -17.9), (8, -3.8, -19.5), (5, 7.5, -22.6), (5, -2.2, -24.7),
    (9, 0.3, -25.4), (9, -0.3, -27.8), (9, 2.6, -27.6), (9, 0.8, -29.9), (9, 3.6, -29.7), (9, 5.4, -31.3), (9, 4.7, -26.6), (9, 6.0, -24.6), (9, 9.1, -26.8), (6, 9.9, -27.3),
    (5, -21.8, -33.1), (6, -21.3, -33.3), (3, -22.2, -33.9), (2, -22.8, -35.0), (0, -20.4, -34.5), (9, -19.9, -35.6), (5, -21.0, -38.4), (3, -19.2, -38.2), (2, -17.9, -38.0), (2, -16.6, -38.9),
    (5, -26.4, -40.5), (0, -16.1, -41.7), (3, -29.6, -44.2), (5, -11.7, -43.4), (5, -12.8, -44.9), (5, -5.2, -46.9), (5, -4.0, -49.7), (0, -11.2, -49.7), (9, -8.5, -52.3), (2, -19.5, -53.5),
    (3, -7.9, -54.7), (5, -4.9, -55.4), (6, -7.6, -57.2),
    (6, 22.6, -35.9), (6, 25.2, -36.4), (6, 22.7, -40.0), (6, 32.4, -46.1), (6, 29.1, -51.6), (6, 23.5, -30.4), (6, 33.8, -30.4), (6, 32.2, -29.5), (6, 24.5, -29.5), (6, 29.5, -35.2), (6, 31.3, -33.1), (5, 39.8, -35.8),
]

rows_by_class = [rows_0, rows_1, rows_2, rows_3, rows_4, rows_5, rows_6, rows_7, rows_8, rows_9]


def expand(rows):
    xs, ys = [], []
    for y, row in rows:
        for x in row:
            xs.append(x)
            ys.append(y)
    return xs, ys


def interior(xs, ys, radius=2.3, need=6):
    """Points well inside a cluster, painted a second time so that the cluster reads as solid."""
    keep_x, keep_y = [], []
    for x, y in zip(xs, ys):
        near = sum(1 for a, b in zip(xs, ys) if (a - x) ** 2 + (b - y) ** 2 < radius ** 2) - 1
        if near >= need:
            keep_x.append(x)
            keep_y.append(y)
    return keep_x, keep_y


def fx(px):
    return px / W


def fy(py):
    return 1 - py / H


MARKER = 18
fig = go.Figure()

# strays beneath the clusters
for k in range(10):
    pts = [p for p in strays_under if p[0] == k]
    if pts:
        fig.add_trace(go.Scatter(x=[p[1] for p in pts], y=[p[2] for p in pts], mode="markers", showlegend=False,
                                 hoverinfo="skip", marker=dict(size=MARKER, color=tab10[k], opacity=0.8, line=dict(width=0)),
                                 xaxis="x", yaxis="y"))

# clusters
for k, rows in enumerate(rows_by_class):
    xs, ys = expand(rows)
    fig.add_trace(go.Scatter(x=xs, y=ys, mode="markers", name=class_names[k] if k < 9 else "",
                             legendgroup=str(k), showlegend=k < 9,
                             marker=dict(size=MARKER, color=tab10[k], opacity=0.8, line=dict(width=0)),
                             xaxis="x", yaxis="y"))
    ix, iy = interior(xs, ys)
    if ix:
        fig.add_trace(go.Scatter(x=ix, y=iy, mode="markers", legendgroup=str(k), showlegend=False, hoverinfo="skip",
                                 marker=dict(size=MARKER, color=tab10[k], opacity=0.8, line=dict(width=0)),
                                 xaxis="x", yaxis="y"))

# strays above the clusters
for k in range(10):
    pts = [p for p in strays_over if p[0] == k]
    if pts:
        fig.add_trace(go.Scatter(x=[p[1] for p in pts], y=[p[2] for p in pts], mode="markers", showlegend=False,
                                 hoverinfo="skip", marker=dict(size=MARKER, color=tab10[k], opacity=0.8, line=dict(width=0)),
                                 xaxis="x", yaxis="y"))

# discrete colour bar for panel (a)
n_bands = len(band_colors)
stepped = []
for i, c in enumerate(band_colors):
    stepped.append([i / n_bands, c])
    stepped.append([(i + 1) / n_bands, c])
fig.add_trace(go.Scatter(
    x=[None, None], y=[None, None], mode="markers", showlegend=False, hoverinfo="skip", xaxis="x", yaxis="y",
    marker=dict(size=1, color=[0, 8], cmin=0, cmax=8, colorscale=stepped, showscale=True,
                colorbar=dict(x=fx(1379), xanchor="left", xpad=0, ypad=0, thickness=59, thicknessmode="pixels",
                              len=1168, lenmode="pixels", y=fy(740), yanchor="middle", outlinewidth=2, outlinecolor="black",
                              tickmode="array", tickvals=cbar_ticks, ticktext=[str(t) for t in cbar_ticks],
                              ticks="outside", ticklen=7, tickwidth=2, tickcolor="black",
                              tickfont=dict(family=MONO, size=28, color="black")))))

# confusion matrix
blues = [[0, "#f7fbff"], [0.125, "#deebf7"], [0.25, "#c6dbef"], [0.375, "#9ecae1"], [0.5, "#6baed6"],
         [0.625, "#4292c6"], [0.75, "#2171b5"], [0.875, "#08519c"], [1, "#08306b"]]
fig.add_trace(go.Heatmap(z=confusion, x=class_names, y=class_names, colorscale=blues, zmin=0, zmax=483, xgap=2, ygap=2,
                         xaxis="x2", yaxis="y2", hoverongaps=False,
                         colorbar=dict(x=fx(2949), xanchor="left", xpad=0, ypad=0, thickness=48, thicknessmode="pixels",
                                       len=958, lenmode="pixels", y=fy(698), yanchor="middle", outlinewidth=0,
                                       tickmode="array", tickvals=count_ticks, ticktext=[str(t) for t in count_ticks],
                                       ticks="outside", ticklen=7, tickwidth=2, tickcolor="black",
                                       tickfont=dict(family=MONO, size=27, color="black"))))
cell_x, cell_y, cell_t, cell_c = [], [], [], []
for r, row in enumerate(confusion):
    for c, v in enumerate(row):
        cell_x.append(class_names[c])
        cell_y.append(class_names[r])
        cell_t.append(str(v))
        cell_c.append("white" if v > 483 / 2 else "#262626")
fig.add_trace(go.Scatter(x=cell_x, y=cell_y, mode="text", text=cell_t, textposition="middle center", showlegend=False,
                         hoverinfo="skip", textfont=dict(family=MONO, size=31, color=cell_c), xaxis="x2", yaxis="y2"))

grid_color = "rgba(176,176,176,0.3)"
shapes = []
for t in x_ticks:
    shapes.append(dict(type="line", xref="x", yref="y domain", x0=t, x1=t, y0=0, y1=1, layer="above",
                       line=dict(color=grid_color, width=2, dash="9px,4px")))
for t in y_ticks:
    shapes.append(dict(type="line", xref="x domain", yref="y", x0=0, x1=1, y0=t, y1=t, layer="above",
                       line=dict(color=grid_color, width=2, dash="9px,4px")))


def note(text, x, y, size, family=MONO, color="black", bold=False, angle=0, xanchor="center"):
    return dict(text=f"<b>{text}</b>" if bold else text, x=fx(x), y=fy(y), xref="paper", yref="paper", showarrow=False,
                font=dict(family=family, size=size, color=color), textangle=angle, xanchor=xanchor, yanchor="middle")


annotations = [
    note("PU Easy K=8shot", 125, 35, 46, BOLD, "#111111", True, xanchor="left"),
    note("t-SNE Visualization of Features", 714, 111, 37.5),
    note("Confusion Matrix", 2312, 117, 42),
    note("(a)", 687, 1513, 66, BOLD, "#111111", True),
    note("(b)", 2328, 1513, 66, BOLD, "#111111", True),
    note("Class", 1483, 740, 28, angle=-90),
    note("Count", 3087, 698, 31, angle=-90),
    note("t-SNE Component 1", 712, 1388, 34),
    note("t-SNE Component 2", 33, 740, 34, angle=-90),
    note("Predicted Label", 2308, 1386, 37.5),
    note("True Label", 1570, 698, 39, angle=-90),
]

fig.update_layout(
    width=W, height=H, autosize=False, margin=dict(l=0, r=0, t=0, b=0, pad=0),
    paper_bgcolor="white", plot_bgcolor="white", font=dict(family=MONO, color="black"),
    shapes=shapes, annotations=annotations,
    xaxis=dict(domain=[fx(124.5), fx(1305)], range=[-61.9, 69.0], tickmode="array", tickvals=x_ticks, automargin=False,
               showgrid=False, zeroline=False, showline=True, mirror=True, linecolor="black", linewidth=2,
               ticks="outside", ticklen=7, tickwidth=2, tickcolor="black", tickfont=dict(family=MONO, size=28, color="black"), anchor="y"),
    yaxis=dict(domain=[fy(1324), fy(156)], range=[-66.4, 72.2], tickmode="array", tickvals=y_ticks, automargin=False,
               showgrid=False, zeroline=False, showline=True, mirror=True, linecolor="black", linewidth=2,
               ticks="outside", ticklen=7, tickwidth=2, tickcolor="black", tickfont=dict(family=MONO, size=28, color="black"), anchor="x"),
    xaxis2=dict(domain=[fx(1746.5), fx(2877)], type="category", categoryorder="array", categoryarray=class_names, range=[-0.5, 8.5], automargin=False,
                showgrid=False, zeroline=False, showline=False, ticks="outside", ticklen=7, tickwidth=2, tickcolor="black",
                tickangle=-45, ticklabelstandoff=-10, ticklabelshift=-14, tickfont=dict(family=MONO, size=31, color="black"), anchor="y2"),
    yaxis2=dict(domain=[fy(1231), fy(167)], type="category", categoryorder="array", categoryarray=class_names, range=[8.5, -0.5], automargin=False,
                showgrid=False, zeroline=False, showline=False, ticks="outside", ticklen=7, tickwidth=2, tickcolor="black",
                tickfont=dict(family=MONO, size=31, color="black"), anchor="x2"),
    legend=dict(x=fx(1077), y=fy(900.5), xanchor="left", yanchor="top", bgcolor="rgba(255,255,255,0.8)",
                bordercolor="#cccccc", borderwidth=2, itemsizing="trace", itemwidth=80, tracegroupgap=4, entrywidth=118, entrywidthmode="pixels",
                font=dict(family=MONO, size=25, color="black"),
                title=dict(text="Class", side="top center", font=dict(family=MONO, size=30, color="black"))),
)

fig.write_html("out.html", config={"displayModeBar": False}, post_script="document.body.style.margin='0';")
